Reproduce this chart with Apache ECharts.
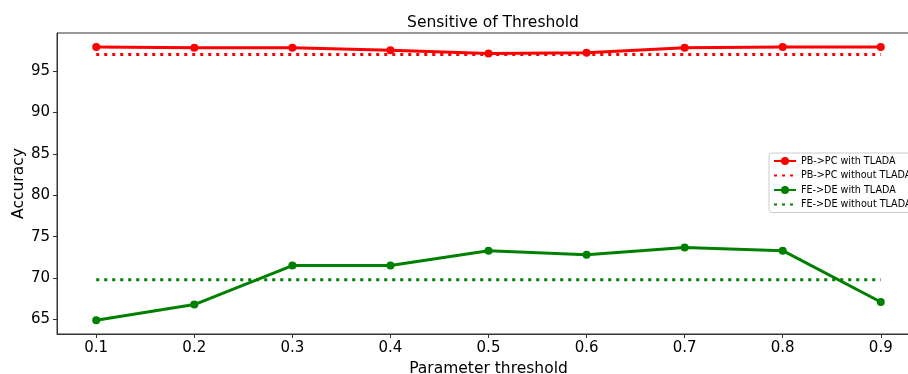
<!DOCTYPE html>
<html><head><meta charset="utf-8">
<script src="https://cdn.jsdelivr.net/npm/echarts@6/dist/echarts.min.js"></script>
<style>html,body{margin:0;padding:0;background:#fff}#c{width:908px;height:374px}</style>
</head><body><div id="c"></div>
<script>
const thresholds = [0.1, 0.2, 0.3, 0.4, 0.5, 0.6, 0.7, 0.8, 0.9];
const pbWith = [97.9, 97.8, 97.8, 97.5, 97.1, 97.2, 97.8, 97.9, 97.9];
const pbWithout = [97.0, 97.0, 97.0, 97.0, 97.0, 97.0, 97.0, 97.0, 97.0];
const feWith = [64.9, 66.8, 71.5, 71.5, 73.3, 72.8, 73.7, 73.3, 67.1];
const feWithout = [69.8, 69.8, 69.8, 69.8, 69.8, 69.8, 69.8, 69.8, 69.8];
const xTicks = [0.1, 0.2, 0.3, 0.4, 0.5, 0.6, 0.7, 0.8, 0.9];
const yTicks = [65, 70, 75, 80, 85, 90, 95];
const seriesNames = ['PB->PC with TLADA', 'PB->PC without TLADA', 'FE->DE with TLADA', 'FE->DE without TLADA'];

const pair = arr => thresholds.map((t, i) => [t, arr[i]]);
const font = 'DejaVu Sans';
const chart = echarts.init(document.getElementById('c'));
const solid = (name, data, color) => ({
  name, type: 'line', data: pair(data), symbol: 'circle', symbolSize: 8,
  lineStyle: { color, width: 3 }, itemStyle: { color }, animation: false
});
const dotted = (name, data, color) => ({
  name, type: 'line', data: pair(data), symbol: 'none',
  lineStyle: { color, width: 3, type: [3, 5], cap: 'butt' }, itemStyle: { color }, animation: false
});
chart.setOption({
  animation: false,
  title: { text: 'Sensitive of Threshold', left: 488, textAlign: 'center', top: 10,
    textStyle: { fontFamily: font, fontSize: 15.5, fontWeight: 'normal', color: '#000' } },
  grid: { left: 57, top: 33, width: 863, height: 301, show: true, borderColor: '#333', borderWidth: 1,
    containLabel: false, outerBoundsMode: 'none' },
  legend: {
    orient: 'vertical', left: 769, top: 153, itemWidth: 22, itemHeight: 10, itemGap: 4.5,
    padding: [3, 4, 3, 4], backgroundColor: '#fff', borderColor: '#ccc', borderWidth: 1, borderRadius: 3,
    textStyle: { fontFamily: font, fontSize: 9.6, color: '#000' },
    data: [
      { name: seriesNames[0] },
      { name: seriesNames[1], itemStyle: { opacity: 0 } },
      { name: seriesNames[2] },
      { name: seriesNames[3], itemStyle: { opacity: 0 } }
    ]
  },
  xAxis: {
    type: 'value', min: 0.06, max: 0.94,
    name: 'Parameter threshold', nameLocation: 'middle', nameGap: 26,
    nameTextStyle: { fontFamily: font, fontSize: 15.5, color: '#000' },
    axisLine: { show: true, lineStyle: { color: '#333', width: 1 } },
    axisTick: { show: true, length: 4, customValues: xTicks, lineStyle: { color: '#333' } },
    axisLabel: { customValues: xTicks, fontFamily: font, fontSize: 15, color: '#000', margin: 7,
      formatter: v => v.toFixed(1) },
    splitLine: { show: false }
  },
  yAxis: {
    type: 'value', min: 63.24, max: 99.59,
    name: 'Accuracy', nameLocation: 'middle', nameGap: 30, nameRotate: 90, nameMoveOverlap: false,
    nameTextStyle: { fontFamily: font, fontSize: 15.5, color: '#000' },
    axisLine: { show: true, lineStyle: { color: '#333', width: 1 } },
    axisTick: { show: true, length: 4, customValues: yTicks, lineStyle: { color: '#333' } },
    axisLabel: { customValues: yTicks, fontFamily: font, fontSize: 15, color: '#000', margin: 7 },
    splitLine: { show: false }
  },
  series: [
    solid(seriesNames[0], pbWith, '#ff0000'),
    dotted(seriesNames[1], pbWithout, '#ff0000'),
    solid(seriesNames[2], feWith, '#008000'),
    dotted(seriesNames[3], feWithout, '#008000')
  ]
});
</script></body></html>
